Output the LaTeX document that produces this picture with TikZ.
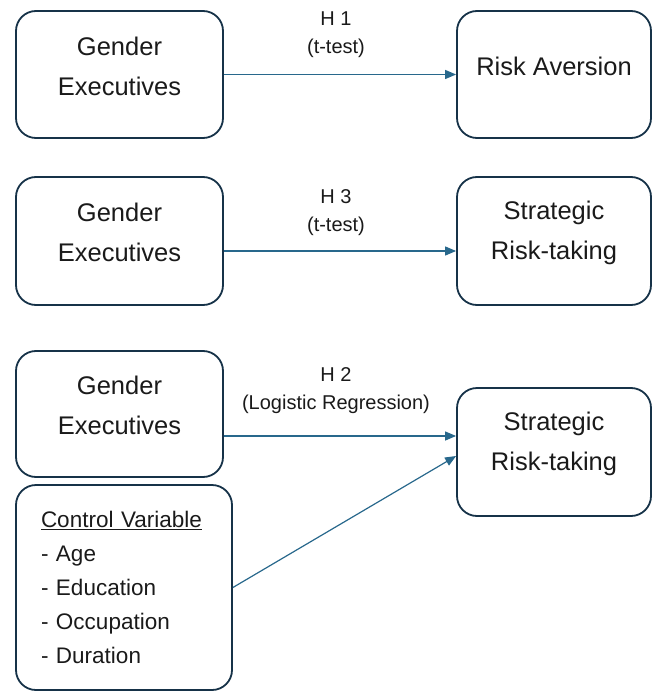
\documentclass[tikz,border=0pt]{standalone}
\usepackage{fontspec}
\setmainfont{Liberation Sans}
\usetikzlibrary{arrows.meta}
\definecolor{boxline}{RGB}{22,50,72}
\definecolor{arrowblue}{RGB}{40,104,140}
\definecolor{textdark}{RGB}{26,26,26}

\begin{document}
\begin{tikzpicture}[x = 1pt, y = -1pt,
    box/.style = {draw = boxline, line width = 1.8pt, rounded corners = 20pt, text = textdark},
    boxtext/.style = {align = center, yshift = 8.5pt, text = textdark, font = \fontsize{25.5}{40}\selectfont},
    hyp/.style = {align = center, xshift = -4pt, text = textdark, font = \fontsize{20}{28}\selectfont},
    arr/.style = {-{Triangle[length = 11pt, width = 9pt]}, draw = arrowblue, line width = 1.2pt}]
    \useasboundingbox (0, 0) rectangle (652, 692);
    \node[box, minimum width = 207pt, minimum height = 127pt, label = {[boxtext]center:{Gender\\Executives}}] (Gender One) at (119.5, 74.5) {};
    \node[box, minimum width = 194pt, minimum height = 127pt, label = {[boxtext]center:{Risk Aversion}}] (Risk Aversion) at (554, 74.5) {};
    \node[box, minimum width = 207pt, minimum height = 128pt, label = {[boxtext]center:{Gender\\Executives}}] (Gender Three) at (119.5, 241) {};
    \node[box, minimum width = 194pt, minimum height = 128pt, label = {[boxtext]center:{Strategic\\Risk-taking}}] (Strategic Three) at (554, 241) {};
    \node[box, minimum width = 207pt, minimum height = 126pt, label = {[boxtext]center:{Gender\\Executives}}] (Gender Two) at (119.5, 414) {};
    \node[box, minimum width = 194pt, minimum height = 128pt, label = {[boxtext]center:{Strategic\\Risk-taking}}] (Strategic Two) at (554, 452) {};
    \node[box, minimum width = 216pt, minimum height = 205pt, align = left, text width = 166pt, font = \fontsize{22.5}{34}\selectfont] (Control) at (124, 587.5) {\underline{Control Variable}\\- Age\\- Education\\- Occupation\\- Duration};
    \draw[arr] (Gender One) -- node[hyp, above = 13pt] (H One) {H 1\\(t-test)} (Risk Aversion);
    \draw[arr] ([yshift = -10pt]Gender Three.east) -- node[hyp, above = 11pt] (H Three) {H 3\\(t-test)} ([yshift = -10pt]Strategic Three.west);
    \draw[arr] ([yshift = -22pt]Gender Two.east) -- node[hyp, above = 18pt] (H Two) {H 2\\(Logistic Regression)} ([yshift = 16pt]Strategic Two.west);
    \draw[arr] (Control.east) -- ([yshift = -4pt]Strategic Two.west);
\end{tikzpicture}
\end{document}
